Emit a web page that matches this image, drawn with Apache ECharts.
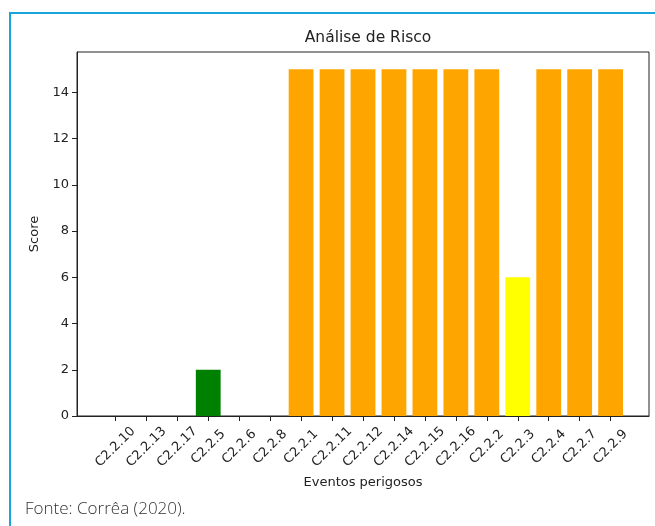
<!DOCTYPE html>
<html>
<head>
<meta charset="utf-8">
<script src="https://cdn.jsdelivr.net/npm/echarts@6/dist/echarts.min.js"></script>
<style>
  html, body { margin: 0; padding: 0; background: #fff; }
  #main { width: 655px; height: 526px; }
</style>
</head>
<body>
<div id="main"></div>
<script>
// eventos perigosos e respectivo score
var eventos = ['C2.2.10', 'C2.2.13', 'C2.2.17', 'C2.2.5', 'C2.2.6', 'C2.2.8',
               'C2.2.1', 'C2.2.11', 'C2.2.12', 'C2.2.14', 'C2.2.15', 'C2.2.16',
               'C2.2.2', 'C2.2.3', 'C2.2.4', 'C2.2.7', 'C2.2.9'];
var scores = [0, 0, 0, 2, 0, 0, 15, 15, 15, 15, 15, 15, 15, 6, 15, 15, 15];
var yTicks = [0, 2, 4, 6, 8, 10, 12, 14];

// cor pela faixa de risco
function corRisco(v) {
    if (v >= 10) return '#ffa500';
    if (v >= 5) return '#ffff00';
    return '#008000';
}

var xTicks = eventos.map(function (e, i) { return i; });
var barData = scores.map(function (v, i) {
    return { value: [i, v], itemStyle: { color: corRisco(v) } };
});

var font = 'DejaVu Sans';
var chart = echarts.init(document.getElementById('main'));

chart.setOption({
    animation: false,
    title: {
        text: 'Análise de Risco',
        left: 363,
        textAlign: 'center',
        top: 25,
        textStyle: { fontFamily: font, fontSize: 15.5, fontWeight: 'normal', color: '#222' }
    },
    grid: {
        left: 77, right: 6, top: 52, bottom: 110,
        show: true, borderColor: '#222', borderWidth: 1
    },
    xAxis: {
        type: 'value',
        min: -1.24,
        max: 17.24,
        name: 'Eventos perigosos',
        nameLocation: 'middle',
        nameGap: 56,
        nameTextStyle: { fontFamily: font, fontSize: 13, color: '#222' },
        splitLine: { show: false },
        axisLine: { show: true, onZero: false, lineStyle: { color: '#222' } },
        axisTick: { show: true, customValues: xTicks, length: 5, lineStyle: { color: '#222' } },
        axisLabel: {
            customValues: xTicks,
            formatter: function (v) { return eventos[Math.round(v)]; },
            rotate: 45,
            align: 'center',
            verticalAlign: 'middle',
            margin: 31,
            fontFamily: font, fontSize: 13, color: '#222'
        }
    },
    yAxis: {
        type: 'value',
        min: 0,
        max: 15.75,
        name: 'Score',
        nameLocation: 'middle',
        nameGap: 35,
        nameTextStyle: { fontFamily: font, fontSize: 13, color: '#222' },
        splitLine: { show: false },
        axisLine: { show: true, onZero: false, lineStyle: { color: '#222' } },
        axisTick: { show: true, customValues: yTicks, length: 5, lineStyle: { color: '#222' } },
        axisLabel: {
            customValues: yTicks,
            margin: 8,
            fontFamily: font, fontSize: 13, color: '#222'
        }
    },
    series: [{
        type: 'bar',
        data: barData,
        barWidth: 24.8
    }],
    graphic: [
        { type: 'line', shape: { x1: 9, y1: 13, x2: 655, y2: 13 },
          style: { stroke: '#19a4da', lineWidth: 2 } },
        { type: 'line', shape: { x1: 10, y1: 13, x2: 10, y2: 526 },
          style: { stroke: '#19a4da', lineWidth: 2 } },
        { type: 'text', left: 25, top: 501,
          style: { text: 'Fonte: Corrêa (2020).', font: '300 17px "Open Sans"', fill: '#333' } }
    ]
});
</script>
</body>
</html>
